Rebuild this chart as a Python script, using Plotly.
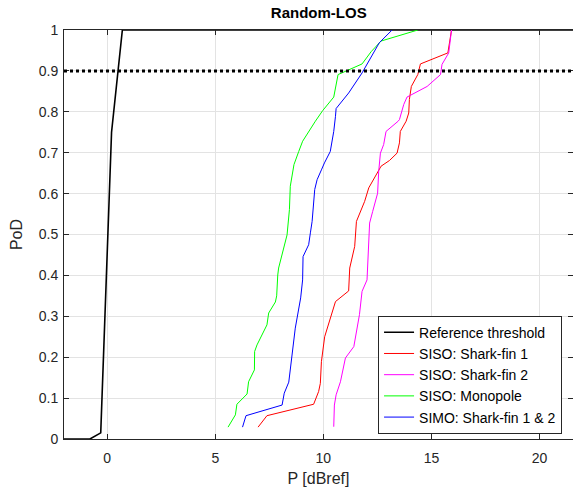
import plotly.graph_objects as go

# ---- data ----
ref_x = [-2.0, -0.8, -0.3, 0.2, 0.7, 1.2, 22.0]
ref_y = [0.0, 0.0, 0.015, 0.75, 1.0, 1.0, 1.0]

sf1_x = [6.98, 7.39, 9.55, 9.78, 9.86, 9.91, 10.06, 10.32, 10.56, 11.17, 11.22, 11.45, 11.53,
         11.91, 12.10, 12.67, 13.06, 13.41, 13.52, 13.56, 13.83, 13.95, 13.98, 14.07, 14.37,
         14.49, 15.76, 15.93]
sf1_y = [0.029, 0.057, 0.085, 0.116, 0.136, 0.189, 0.250, 0.295, 0.336, 0.362, 0.418, 0.471, 0.532,
         0.581, 0.614, 0.667, 0.681, 0.699, 0.724, 0.752, 0.777, 0.797, 0.830, 0.862, 0.891,
         0.917, 0.944, 1.0]

sf2_x = [10.48, 10.51, 10.59, 10.79, 11.02, 11.41, 11.67, 11.76, 11.79, 12.02, 12.07, 12.14, 12.28,
         12.51, 12.56, 12.62, 12.64, 12.79, 12.90, 13.46, 13.52, 13.72, 13.87, 14.80, 15.42,
         15.49, 15.80, 15.93]
sf2_y = [0.030, 0.083, 0.108, 0.140, 0.198, 0.226, 0.304, 0.345, 0.361, 0.389, 0.446, 0.528, 0.556,
         0.601, 0.654, 0.680, 0.699, 0.720, 0.752, 0.777, 0.781, 0.818, 0.836, 0.862, 0.891,
         0.916, 0.944, 1.0]

mono_x = [5.59, 5.93, 6.00, 6.47, 6.54, 6.81, 6.82, 6.93, 7.39, 7.47, 7.78, 7.84, 7.89, 7.93,
          8.32, 8.43, 8.47, 8.64, 8.86, 9.04, 9.63, 9.97, 10.48, 10.59, 10.68, 11.79, 12.21,
          12.67, 14.37]
mono_y = [0.029, 0.059, 0.085, 0.110, 0.140, 0.169, 0.214, 0.230, 0.279, 0.308, 0.335, 0.350, 0.401,
          0.418, 0.499, 0.561, 0.618, 0.671, 0.703, 0.728, 0.777, 0.803, 0.836, 0.862, 0.891,
          0.917, 0.947, 0.973, 1.0]

simo_x = [6.26, 6.42, 8.09, 8.19, 8.40, 8.52, 8.70, 8.95, 9.04, 9.06, 9.32, 9.40, 9.48, 9.60,
          9.71, 9.91, 10.05, 10.32, 10.40, 10.48, 10.56, 10.59, 11.17, 11.79, 12.59, 13.18]
simo_y = [0.029, 0.057, 0.083, 0.112, 0.139, 0.189, 0.271, 0.345, 0.389, 0.446, 0.475, 0.504, 0.532,
          0.610, 0.634, 0.658, 0.675, 0.703, 0.724, 0.752, 0.789, 0.808, 0.846, 0.895, 0.969, 1.0]

threshold = 0.9
x_ticks = [0, 5, 10, 15, 20]
y_ticks = [0, 0.1, 0.2, 0.3, 0.4, 0.5, 0.6, 0.7, 0.8, 0.9, 1]
y_tick_text = ["0", "0.1", "0.2", "0.3", "0.4", "0.5", "0.6", "0.7", "0.8", "0.9", "1"]

series = [
    ("Reference threshold", ref_x, ref_y, "#000000", 1.6),
    ("SISO: Shark-fin 1", sf1_x, sf1_y, "#ff0000", 1.0),
    ("SISO: Shark-fin 2", sf2_x, sf2_y, "#ff00ff", 1.0),
    ("SISO: Monopole", mono_x, mono_y, "#00ff00", 1.0),
    ("SIMO: Shark-fin 1 & 2", simo_x, simo_y, "#0000ff", 1.0),
]

FONT = "Liberation Sans, Arial, Helvetica, sans-serif"
fig = go.Figure()
for name, xs, ys, col, w in series:
    fig.add_trace(go.Scatter(x=xs, y=ys, mode="lines", name=name,
                             line=dict(color=col, width=w), cliponaxis=True))

fig.add_hline(y=threshold, line=dict(color="black", width=3, dash="dot"), layer="above")

axis_common = dict(showline=True, linecolor="#262626", linewidth=1, mirror="ticks",
                   ticks="inside", ticklen=5, tickcolor="#262626",
                   showgrid=True, gridcolor="#e3e3e3", gridwidth=1, zeroline=False,
                   tickfont=dict(family=FONT, size=14, color="#262626"))

fig.update_layout(
    width=573, height=491,
    margin=dict(l=64, r=0, t=30, b=52),
    paper_bgcolor="white", plot_bgcolor="white",
    title=dict(text="<b>Random-LOS</b>", x=0.5563, xanchor="center", y=0.975, yanchor="middle",
               font=dict(family=FONT, size=15, color="black")),
    xaxis=dict(range=[-2, 21.55], tickvals=x_ticks, ticklabelstandoff=6,
               title=dict(text="P [dBref]", font=dict(family=FONT, size=16, color="#262626"), standoff=8),
               **axis_common),
    yaxis=dict(range=[0, 1], tickvals=y_ticks, ticktext=y_tick_text, ticklabelstandoff=2,
               title=dict(text="PoD", font=dict(family=FONT, size=16, color="#262626"), standoff=12),
               **axis_common),
    legend=dict(x=0.617, y=0.013, xanchor="left", yanchor="bottom",
                bgcolor="white", bordercolor="#262626", borderwidth=1,
                font=dict(family=FONT, size=14, color="black"),
                tracegroupgap=0, itemwidth=30),
    showlegend=True,
)

fig.write_html("out.html")
